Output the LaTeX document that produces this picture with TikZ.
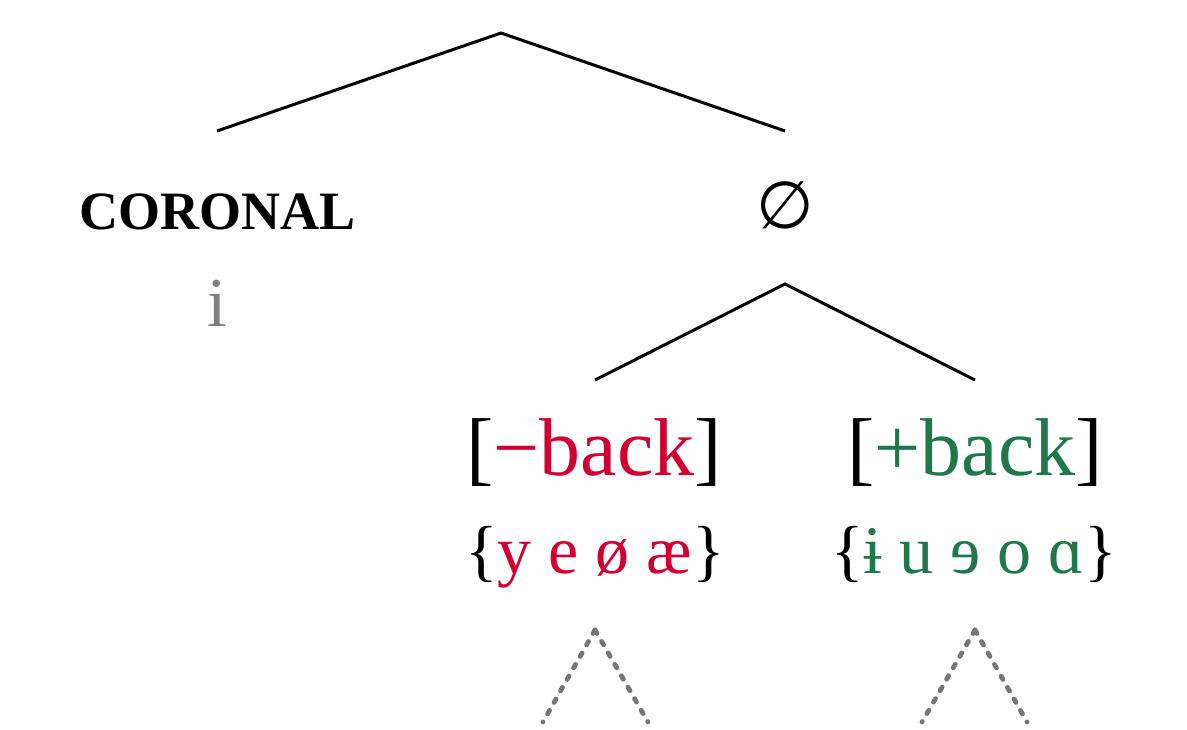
\documentclass[tikz,border=0pt]{standalone}
\usepackage{fontspec}
\setmainfont{Liberation Serif}
\newfontfamily\symfont{DejaVu Sans}
\definecolor{negred}{RGB}{208,0,48}
\definecolor{posgreen}{RGB}{30,120,75}
\definecolor{softgray}{RGB}{128,128,128}
\definecolor{dotgray}{RGB}{118,118,118}
\begin{document}
\begin{tikzpicture}[x=0.5pt,y=-0.5pt,
  branch/.style={line width=1.5pt},
  subtree/.style={line width=2.4pt,dotgray,line cap=round,dash pattern=on 2pt off 4.6pt},
  featlabel/.style={inner sep=0pt,anchor=base,font=\fontsize{41}{46}\selectfont},
  setlabel/.style={inner sep=0pt,anchor=base,font=\fontsize{34}{40}\selectfont},
  toplabel/.style={inner sep=0pt,anchor=base,font=\fontsize{27}{31}\selectfont\bfseries}]
\useasboundingbox (0,0) rectangle (1187,729);

% upper tree
\coordinate (root) at (501,33);
\coordinate (lfoot) at (217,131);
\coordinate (rfoot) at (785,131);
\draw[branch] (lfoot) -- (root) -- (rfoot);

\node[toplabel] (cor) at (218,229) {CORONAL};
\node[inner sep=0pt,anchor=base,font=\fontsize{35}{40}\selectfont,softgray] (ivow) at (217,326) {i};
\node[inner sep=0pt,font=\symfont\fontsize{33}{38}\selectfont] (empty) at (785,205) {∅};

% lower tree
\coordinate (sub) at (785,284);
\coordinate (nfoot) at (595,380);
\coordinate (pfoot) at (975,380);
\draw[branch] (nfoot) -- (sub) -- (pfoot);

\node[featlabel] (negback) at (594,475) {[\textcolor{negred}{−back}]};
\node[setlabel] (negset) at (595,573) {\{\textcolor{negred}{y e ø æ}\}};
\node[featlabel] (posback) at (975,475) {[\textcolor{posgreen}{+back}]};
\node[setlabel] (posset) at (974,573) {\{\textcolor{posgreen}{ɨ u ɘ o ɑ}\}};

% elided subtrees
\coordinate (na) at (595,630);
\coordinate (nl) at (543,722);
\coordinate (nr) at (648,722);
\coordinate (pa) at (975,630);
\coordinate (pl) at (922,722);
\coordinate (pr) at (1027,722);
\draw[subtree] (na) -- (nl);
\draw[subtree] (na) -- (nr);
\draw[subtree] (pa) -- (pl);
\draw[subtree] (pa) -- (pr);
\end{tikzpicture}
\end{document}
